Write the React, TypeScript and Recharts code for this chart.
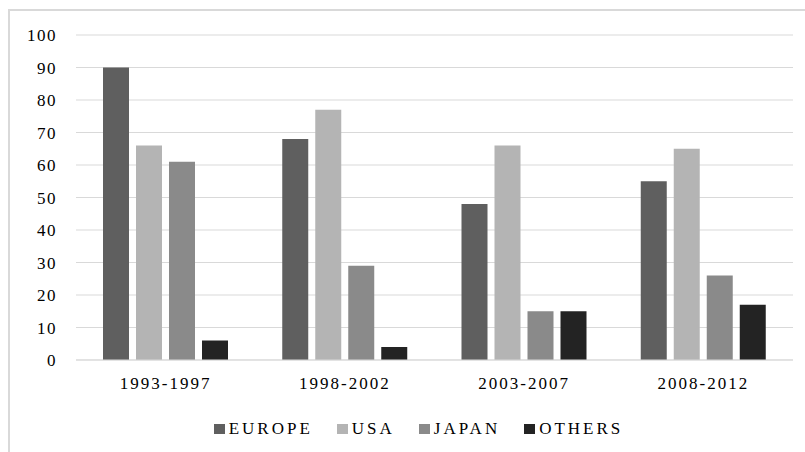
import { BarChart, Bar, XAxis, YAxis, CartesianGrid, Legend } from "recharts";

const periods = ["1993-1997", "1998-2002", "2003-2007", "2008-2012"];
const europe = [90, 68, 48, 55];
const usa = [66, 77, 66, 65];
const japan = [61, 29, 15, 26];
const others = [6, 4, 15, 17];
const yTicks = [0, 10, 20, 30, 40, 50, 60, 70, 80, 90, 100];

const series = [
  { key: "EUROPE", color: "#5f5f5f" },
  { key: "USA", color: "#b4b4b4" },
  { key: "JAPAN", color: "#8a8a8a" },
  { key: "OTHERS", color: "#232323" },
];

const data = periods.map((p, i) => ({
  name: p,
  EUROPE: europe[i],
  USA: usa[i],
  JAPAN: japan[i],
  OTHERS: others[i],
}));

const font = "Liberation Serif";

const LegendBox = () => (
  <div
    style={{
      display: "flex",
      justifyContent: "center",
      gap: 24,
      fontFamily: font,
      fontSize: 17,
      letterSpacing: 3,
      color: "#000",
      paddingLeft: 44,
      paddingTop: 6,
    }}
  >
    {series.map((s) => (
      <div key={s.key} style={{ display: "flex", alignItems: "center" }}>
        <span
          style={{
            display: "inline-block",
            width: 11,
            height: 10,
            background: s.color,
            marginRight: 4,
          }}
        />
        <span>{s.key}</span>
      </div>
    ))}
  </div>
);

export default function App() {
  return (
    <div style={{ position: "absolute", left: 0, top: 0, width: 805, height: 452, background: "#fff", fontFamily: font }}>
      <div
        style={{
          position: "absolute",
          left: 8,
          top: 9,
          width: 805,
          height: 460,
          borderTop: "2px solid #d9d9d9",
          borderLeft: "2px solid #d9d9d9",
        }}
      />
      <BarChart
        width={805}
        height={452}
        data={data}
        margin={{ top: 35, right: 12, bottom: 9, left: 0 }}
        barCategoryGap={27}
        barGap={7}
        style={{ position: "absolute", left: 0, top: 0, fontFamily: font }}
      >
        <CartesianGrid vertical={false} stroke="#d9d9d9" />
        <XAxis
          dataKey="name"
          height={53}
          tickLine={false}
          tickSize={0}
          tickMargin={17}
          axisLine={{ stroke: "#d9d9d9" }}
          tick={{ fill: "#000", fontFamily: font, fontSize: 17, letterSpacing: 2 }}
        />
        <YAxis
          width={76}
          domain={[0, 100]}
          ticks={yTicks}
          interval={0}
          tickLine={false}
          tickSize={0}
          tickMargin={19}
          axisLine={false}
          tick={{ fill: "#000", fontFamily: font, fontSize: 17, letterSpacing: 1.5 }}
        />
        <Legend
          verticalAlign="bottom"
          content={() => <LegendBox />}
          wrapperStyle={{ height: 30 }}
        />
        {series.map((s) => (
          <Bar key={s.key} dataKey={s.key} fill={s.color} isAnimationActive={false} />
        ))}
      </BarChart>
    </div>
  );
}
